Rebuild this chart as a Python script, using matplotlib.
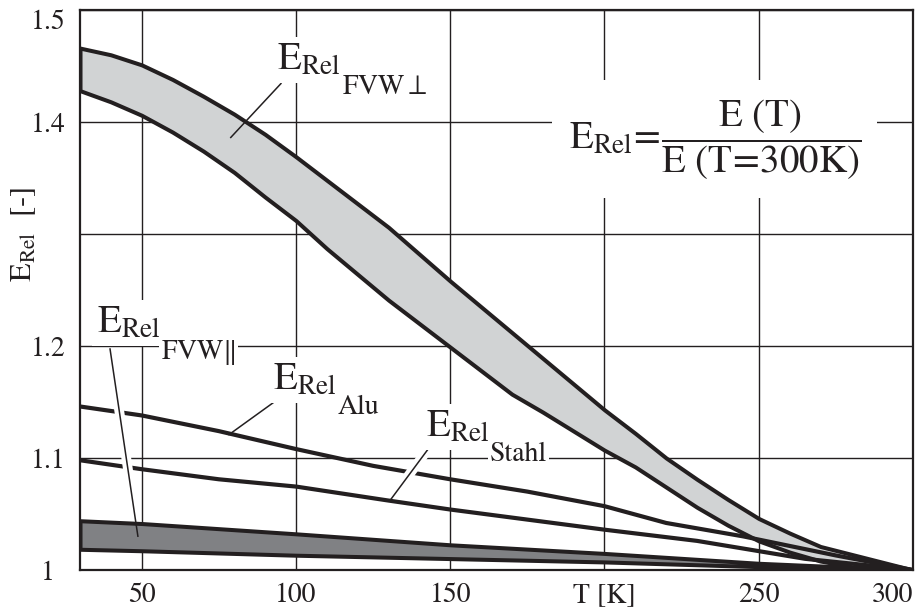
import numpy as np
import matplotlib
matplotlib.use("Agg")
import matplotlib.pyplot as plt

plt.rcParams['font.family'] = ['STIXGeneral', 'DejaVu Serif']
plt.rcParams['mathtext.fontset'] = 'stix'

# --- Werte ---
T_senk = [30, 40, 50, 60, 70, 80, 90, 100, 110, 120, 130, 140, 150, 160, 170,
          180, 190, 200, 210, 220, 230, 240, 250, 260, 270, 280, 290, 300]
E_senk_oben = [1.466, 1.460, 1.451, 1.438, 1.423, 1.407, 1.389, 1.369, 1.348,
               1.327, 1.306, 1.282, 1.258, 1.235, 1.212, 1.189, 1.166, 1.143,
               1.122, 1.100, 1.081, 1.063, 1.046, 1.033, 1.021, 1.014, 1.007, 1.0]
E_senk_unten = [1.428, 1.418, 1.406, 1.391, 1.374, 1.355, 1.333, 1.312, 1.287,
                1.264, 1.241, 1.220, 1.199, 1.178, 1.157, 1.141, 1.124, 1.107,
                1.092, 1.074, 1.056, 1.040, 1.026, 1.016, 1.008, 1.003, 1.001, 1.0]

T_par = [30, 50, 100, 150, 200, 250, 300]
E_par_oben = [1.044, 1.0415, 1.0323, 1.0225, 1.0148, 1.006, 1.0]
E_par_unten = [1.0185, 1.0172, 1.0132, 1.0102, 1.0072, 1.003, 1.0]

T_alu = [30, 50, 75, 100, 125, 150, 175, 200, 220, 245, 275, 300]
E_alu = [1.146, 1.138, 1.124, 1.108, 1.093, 1.081, 1.070, 1.057, 1.042, 1.030,
         1.013, 1.0]

T_stahl = [30, 50, 75, 100, 130, 150, 175, 200, 230, 265, 300]
E_stahl = [1.098, 1.090, 1.081, 1.0745, 1.062, 1.054, 1.045, 1.036, 1.026,
           1.010, 1.0]

x_ticks = [50, 100, 150, 200, 250, 300]
x_labels = ['50', '100', '150', 'T [K]', '250', '300']
y_ticks = [1.0, 1.1, 1.2, 1.3, 1.4, 1.5]
y_labels = ['1', '1.1', '1.2', '', '1.4', '1.5']

ink = '#231f20'

fig = plt.figure(figsize=(9.19, 6.12), dpi=100)
ax = fig.add_axes([80/919, 42/612, 833/919, 560/612])
ax.set_xlim(30, 300)
ax.set_ylim(1.0, 1.5)

ax.set_xticks(x_ticks)
ax.set_xticklabels(x_labels)
ax.set_yticks(y_ticks)
ax.set_yticklabels(y_labels)
ax.tick_params(length=0, labelsize=20, colors=ink)
ax.tick_params(axis='y', pad=23)
ax.tick_params(axis='x', pad=9)
for lab in ax.get_yticklabels():
    lab.set_ha('center')
ax.get_yticklabels()[-1].set_va('top')
ax.get_xticklabels()[-1].set_ha('right')

ax.grid(True, color=ink, lw=1.0, zorder=0.5)
ax.set_axisbelow(True)
for s in ax.spines.values():
    s.set_color(ink)
    s.set_linewidth(1.6)

# Baender und Linien
ax.fill_between(T_senk, E_senk_unten, E_senk_oben, facecolor='#d1d3d4',
                edgecolor=ink, lw=2.9, zorder=2, joinstyle='round')
ax.fill_between(T_par, E_par_unten, E_par_oben, facecolor='#808184',
                edgecolor=ink, lw=2.9, zorder=2, joinstyle='round')
ax.plot(T_alu, E_alu, color=ink, lw=3.0, zorder=2.2, solid_joinstyle='round')
ax.plot(T_stahl, E_stahl, color=ink, lw=3.0, zorder=2.2, solid_joinstyle='round')


def leader(p0, p1, halo=False):
    if halo:
        a, b = 0.15, 0.85
        ax.plot([p0[0] + a*(p1[0]-p0[0]), p0[0] + b*(p1[0]-p0[0])],
                [p0[1] + a*(p1[1]-p0[1]), p0[1] + b*(p1[1]-p0[1])],
                color='white', lw=7, zorder=3, solid_capstyle='butt')
    ax.plot([p0[0], p1[0]], [p0[1], p1[1]], color=ink, lw=1.1, zorder=3.2,
            solid_capstyle='butt')


def label(x, y, sub):
    box = dict(facecolor='white', edgecolor='none', pad=4)
    t1 = ax.text(x, y, r'$\mathrm{E_{Rel}}$', fontsize=28, color=ink,
                 va='baseline', ha='left', zorder=4, bbox=box)
    ax.annotate(sub, xy=(1, 0), xycoords=t1, xytext=(0.5, 2),
                textcoords='offset points', fontsize=20, color=ink,
                va='top', ha='left', zorder=5,
                bbox=dict(facecolor='white', edgecolor='none', pad=1.5))


leader((95.3, 1.4348), (78.7, 1.3857))
leader((94.3, 1.1527), (78.1, 1.1205))
leader((144.3, 1.1134), (130.6, 1.0625), halo=True)
leader((39.7, 1.198), (48.8, 1.0295), halo=True)

label(94.0, 1.4464, r'FVW$\perp$')
label(92.7, 1.1607, 'Alu')
label(142.0, 1.1188, 'Stahl')
label(35.5, 1.2116, r'FVW$\Vert$')

ax.text(235.7, 1.385,
        r'$\mathrm{E_{Rel}}\!=\!\dfrac{\mathrm{E\ (T)}}{\mathrm{E\ (T\!=\!300K)}}$',
        fontsize=28, color=ink, ha='center', va='center', zorder=4,
        bbox=dict(facecolor='white', edgecolor='none', pad=12))

ax.set_ylabel(r'$\mathrm{E_{Rel}}$  [-]', fontsize=22, color=ink)
ax.yaxis.set_label_coords(-0.05, 0.6)

fig.savefig('out.png', dpi=100)
